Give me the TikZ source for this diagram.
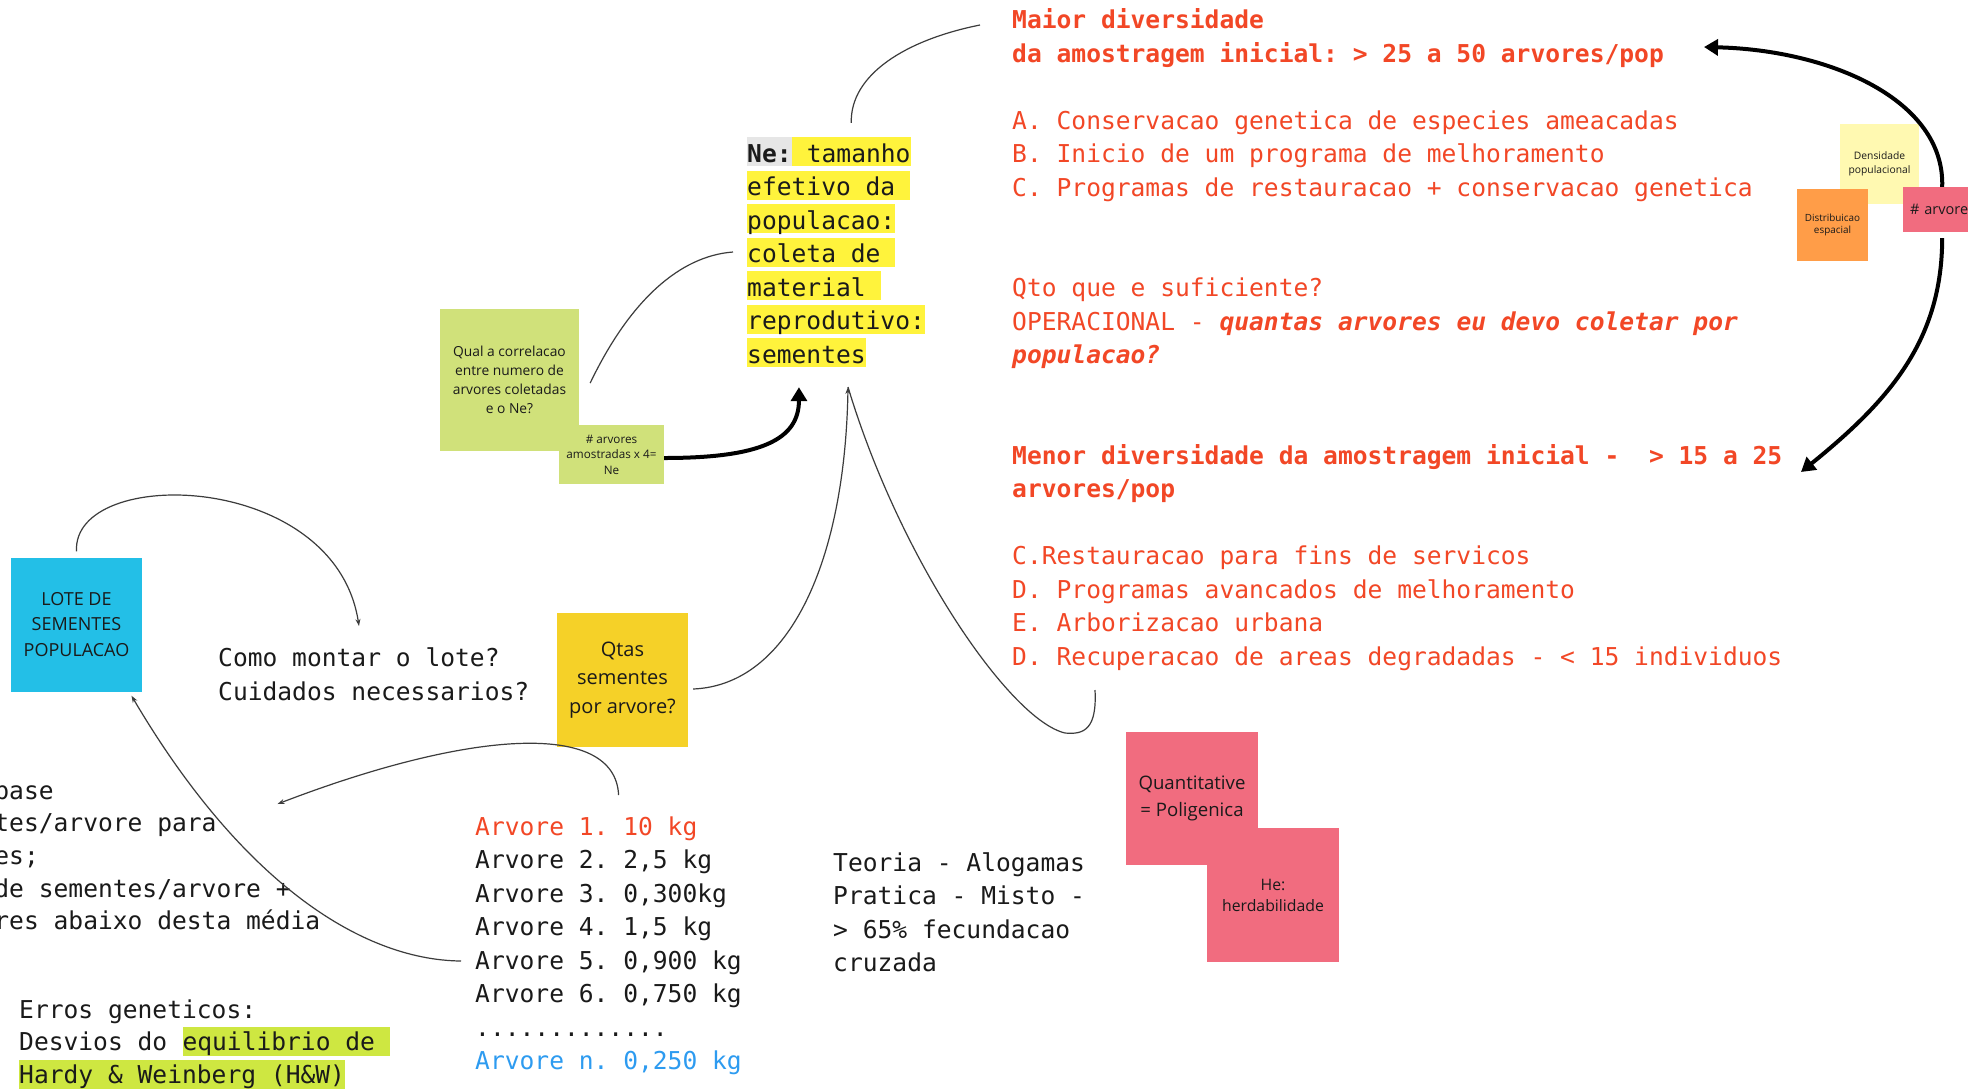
\documentclass[tikz,border=0pt]{standalone}
\usepackage{fontspec}
\setmonofont{DejaVu Sans Mono}
\setsansfont{Open Sans}
\usetikzlibrary{arrows.meta}

\definecolor{mred}{HTML}{F24726}
\definecolor{mblue}{HTML}{2D9BF0}
\definecolor{ink}{HTML}{1A1A1A}
\definecolor{hlyellow}{HTML}{FFF33C}
\definecolor{hlgrey}{HTML}{E6E6E6}
\definecolor{hllime}{HTML}{CEE741}
\definecolor{stcyan}{HTML}{23BFE7}
\definecolor{stgold}{HTML}{F5D128}
\definecolor{stgreen}{HTML}{D0E17A}
\definecolor{stpink}{HTML}{F16C7F}
\definecolor{stcream}{HTML}{FFF9B1}
\definecolor{storange}{HTML}{FF9D48}
\definecolor{linegrey}{HTML}{3C3C3C}

\newcommand\monotext{\ttfamily\fontsize{24.6}{33.5}\selectfont}
\newcommand\stickyfont[2]{\sffamily\fontsize{#1}{#2}\selectfont}
\newcommand\padsp{\hphantom{x}}

\pgfdeclarelayer{front}
\pgfsetlayers{main,front}

\begin{document}
\begin{tikzpicture}[x=1pt,y=-1pt,
    mono/.style={inner sep=0pt, text=ink, font=\monotext},
    block/.style={mono, align=left, anchor=north west},
    hl/.style={mono, fill=hlyellow, text height=25pt, text depth=4pt, anchor=base west},
    sticky/.style={inner sep=0pt, align=center, text=ink},
    link/.style={draw=linegrey, line width=1.2pt},
    endtip/.style={-{Stealth[length=7pt,width=5pt]}},
    thickarrow/.style={draw=black, line width=4pt, -{Triangle[length=14pt,width=16pt]}}]

    \useasboundingbox (0,0) rectangle (1968,1088);
    \fill[white] (0,0) rectangle (1968,1088);
    \clip (0,0) rectangle (1968,1088);

    % stickies
    \node[sticky, fill=stgreen, minimum width=139pt, minimum height=142pt, font=\stickyfont{13.8}{19}] (qual) at (509.5,380) {Qual a correlacao\\entre numero de\\arvores coletadas\\e o Ne?};
    \node[sticky, fill=stgreen, minimum width=105pt, minimum height=59pt, font=\stickyfont{11.7}{15.5}] (amos) at (611.5,454.5) {\# arvores\\amostradas x 4=\\Ne};
    \node[sticky, fill=stcyan, minimum width=131pt, minimum height=134pt, font=\stickyfont{18}{25.5}] (lote) at (76.5,624.5) {LOTE DE\\SEMENTES\\POPULACAO};
    \node[sticky, fill=stgold, minimum width=131pt, minimum height=134pt, font=\stickyfont{20}{28.5}] (qtas) at (622.5,680) {Qtas\\sementes\\por arvore?};
    \node[sticky, fill=stpink, minimum width=132pt, minimum height=133pt, font=\stickyfont{18.6}{27}] (quant) at (1192,798.5) {Quantitative\\= Poligenica};
    \node[sticky, fill=stpink, minimum width=132pt, minimum height=134pt, font=\stickyfont{15.8}{21}] (herd) at (1273,895) {He:\\herdabilidade};
    \node[sticky, fill=stcream, minimum width=79pt, minimum height=80pt, font=\stickyfont{10.3}{14}] (dens) at (1879.5,164) {Densidade\\populacional};
    \node[sticky, fill=storange, minimum width=71pt, minimum height=72pt, font=\stickyfont{9.9}{12}] (dist) at (1832.5,225) {Distribuicao\\espacial};
    \begin{pgfonlayer}{front}
    \node[sticky, fill=stpink, anchor=west, minimum width=78pt, minimum height=45pt, text width=64pt, align=left, font=\stickyfont{14.5}{18}] (arvbox) at (1903,209.5) {\# arvore};
    \end{pgfonlayer}

    % Ne block
    \node[hl, fill=hlgrey, font=\monotext\bfseries] (ne0) at (747,162) {Ne:};
    \node[hl] (tam) at (ne0.base east) {\padsp tamanho};
    \foreach \txt [count=\i] in {efetivo da\padsp, populacao:, coleta de\padsp, material\padsp, reprodutivo:, sementes}
        \node[hl] (ne\i) at (747,162+33.5*\i) {\txt};

    % text blocks
    \node[block, text=mred] (maior) at (1012,5) {\strut\textbf{Maior diversidade}\\
        \textbf{da amostragem inicial: > 25 a 50 arvores/pop}\\
        \\
        A. Conservacao genetica de especies ameacadas\\
        B. Inicio de um programa de melhoramento\\
        C. Programas de restauracao + conservacao genetica\\
        \\
        \\
        Qto que e suficiente?\\
        OPERACIONAL - \textbf{\textit{quantas arvores eu devo coletar por}}\\
        \textbf{\textit{populacao?}}\\
        \\
        \\
        \textbf{Menor diversidade da amostragem inicial -~~> 15 a 25}\\
        \textbf{arvores/pop}\\
        \\
        C.Restauracao para fins de servicos\\
        D. Programas avancados de melhoramento\\
        E. Arborizacao urbana\\
        D. Recuperacao de areas degradadas - < 15 individuos};
    \node[block] (como) at (218,643) {\strut Como montar o lote?\\Cuidados necessarios?};
    \node[block, font=\ttfamily\fontsize{24.6}{32.6}\selectfont] (base) at (-5.8,776.2)
        {\strut base\\tes/arvore para\\es;\\de sementes/arvore +\\res abaixo desta média};
    \node[block] (arvores) at (475,811.5) {\strut\textcolor{mred}{Arvore 1. 10 kg}\\
        Arvore 2. 2,5 kg\\
        Arvore 3. 0,300kg\\
        Arvore 4. 1,5 kg\\
        Arvore 5. 0,900 kg\\
        Arvore 6. 0,750 kg\\
        .............\\
        \textcolor{mblue}{Arvore n. 0,250 kg}};
    \node[block] (teoria) at (833,847.5) {\strut Teoria - Alogamas\\Pratica - Misto -\\> 65\% fecundacao\\cruzada};
    \node[mono, anchor=base west] (erros) at (19,1018) {Erros geneticos:};
    \node[mono, anchor=base west] (desvios) at (19,1050.5) {Desvios do\padsp};
    \node[hl, fill=hllime, text height=24pt, text depth=5pt] (equil) at (desvios.base east) {equilibrio de\padsp};
    \node[hl, fill=hllime, text height=23pt, text depth=6pt] (hardy) at (19,1083) {Hardy \& Weinberg (H\&W)};

    % connectors
    \coordinate (maiortip) at (980,25);
    \coordinate (apex) at (848,387);
    \coordinate (recup) at (1095,690);
    \coordinate (comotip) at (359,626);
    \coordinate (arvtop) at (618.6,795);
    \coordinate (basetip) at (277.5,804);
    \coordinate (arvcinco) at (461,961);
    \coordinate (maiorarrow) at (1704,47);
    \coordinate (menorarrow) at (1801,472);

    \draw[link] ([yshift=14pt]tam.north) .. controls (850,75) and (905,40) .. (maiortip);
    \draw[link] ([xshift=11pt,yshift=-3pt]qual.east) .. controls (630,300) and (680,256) .. ([xshift=-14pt]ne3.west);
    \draw[thickarrow] ([yshift=-3.5pt]amos.east) .. controls (760,458) and (799,440) .. ([xshift=-7.5pt,yshift=-20pt]ne6.south);
    \draw[link, endtip] ([xshift=5pt,yshift=-9pt]qtas.east) .. controls (790,685) and (845,560) .. (apex);
    \draw[link] (recup) .. controls (1097,728) and (1085,735) .. (1065,733) .. controls (1010,720) and (900,560) .. (apex);
    \draw[link, endtip] ([yshift=6pt]lote.north) .. controls (72,465) and (335,470) .. (comotip);
    \draw[link, endtip] (arvtop) .. controls (615,720) and (470,730) .. (basetip);
    \draw[link, endtip] (arvcinco) .. controls (360,960) and (240,880) .. ([xshift=55pt,yshift=-4pt]lote.south);
    \draw[thickarrow] (arvbox.north) .. controls (1945,100) and (1830,50) .. (maiorarrow);
    \draw[thickarrow] ([yshift=-6pt]arvbox.south) .. controls (1942,340) and (1890,400) .. (menorarrow);

\end{tikzpicture}
\end{document}
